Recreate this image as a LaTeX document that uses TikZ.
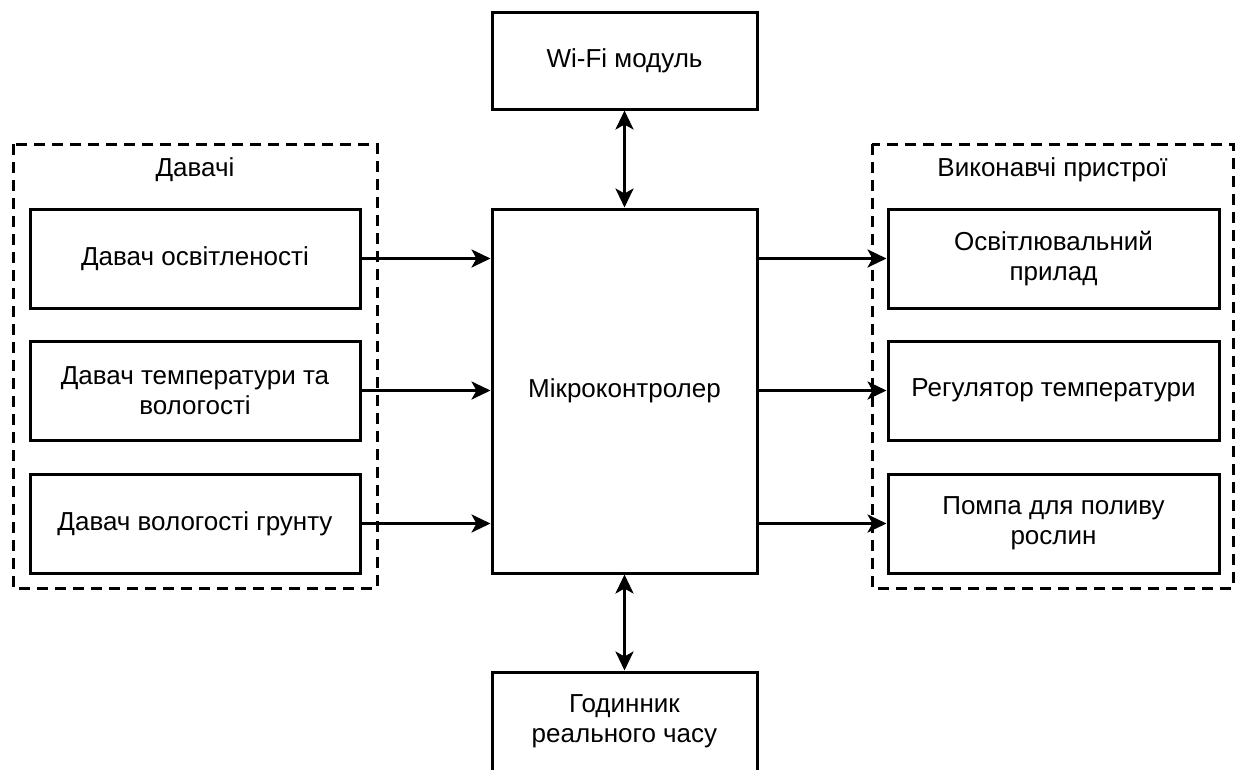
\documentclass[tikz,border=0pt]{standalone}
\usepackage{fontspec}
\setmainfont{Liberation Sans}
\usetikzlibrary{arrows.meta}
\begin{document}
\begin{tikzpicture}[x=1pt,y=-1pt,
  blk/.style={draw=black,line width=3pt,fill=white,rectangle,inner sep=0pt,align=center,
    font=\fontsize{26}{30}\selectfont},
  grp/.style={draw=black,line width=3pt,dash pattern=on 11pt off 7pt},
  lbl/.style={font=\fontsize{26}{30}\selectfont,inner sep=0pt},
  conn/.style={line width=3pt,-{Stealth[length=19pt,width=18pt,inset=5pt]}},
  bconn/.style={line width=3pt,{Stealth[length=19pt,width=18pt,inset=5pt]}-{Stealth[length=19pt,width=18pt,inset=5pt]}}]
\useasboundingbox (0,0) rectangle (1240,769);
% groups
\draw[grp] (13,144) rectangle (377,588);
\draw[grp] (872,144) rectangle (1233,588);
\node[lbl] (gl) at (195,170) {Давачі};
\node[lbl] (gr) at (1052.5,170) {Виконавчі пристрої};
% central
\node[blk,minimum width=265pt,minimum height=97pt] (wifi) at (624.5,60.5) {Wi-Fi модуль};
\node[blk,minimum width=265pt,minimum height=364pt] (mc) at (624.5,391) {Мікроконтролер};
\node[blk,minimum width=265pt,minimum height=99pt] (clk) at (624.5,721.5) {Годинник\\реального часу};
% sensors
\node[blk,minimum width=330pt,minimum height=99pt] (s1) at (195,258.5) {Давач освітленості};
\node[blk,minimum width=330pt,minimum height=99pt] (s2) at (195,390.5) {Давач температури та\\вологості};
\node[blk,minimum width=330pt,minimum height=99pt] (s3) at (195,523.5) {Давач вологості грунту};
% actuators
\node[blk,minimum width=331pt,minimum height=99pt] (a1) at (1053.5,258.5) {Освітлювальний\\прилад};
\node[blk,minimum width=331pt,minimum height=99pt] (a2) at (1053.5,390.5) {Регулятор температури};
\node[blk,minimum width=331pt,minimum height=99pt] (a3) at (1053.5,523.5) {Помпа для поливу\\рослин};
% connectors
\draw[conn] (s1.east) -- (mc.west |- s1.east);
\draw[conn] (s2.east) -- (mc.west |- s2.east);
\draw[conn] (s3.east) -- (mc.west |- s3.east);
\draw[conn] (mc.east |- a1.west) -- (a1.west);
\draw[conn] (mc.east |- a2.west) -- (a2.west);
\draw[conn] (mc.east |- a3.west) -- (a3.west);
\draw[bconn] (wifi.south) -- (mc.north);
\draw[bconn] (mc.south) -- (clk.north);
\end{tikzpicture}
\end{document}
